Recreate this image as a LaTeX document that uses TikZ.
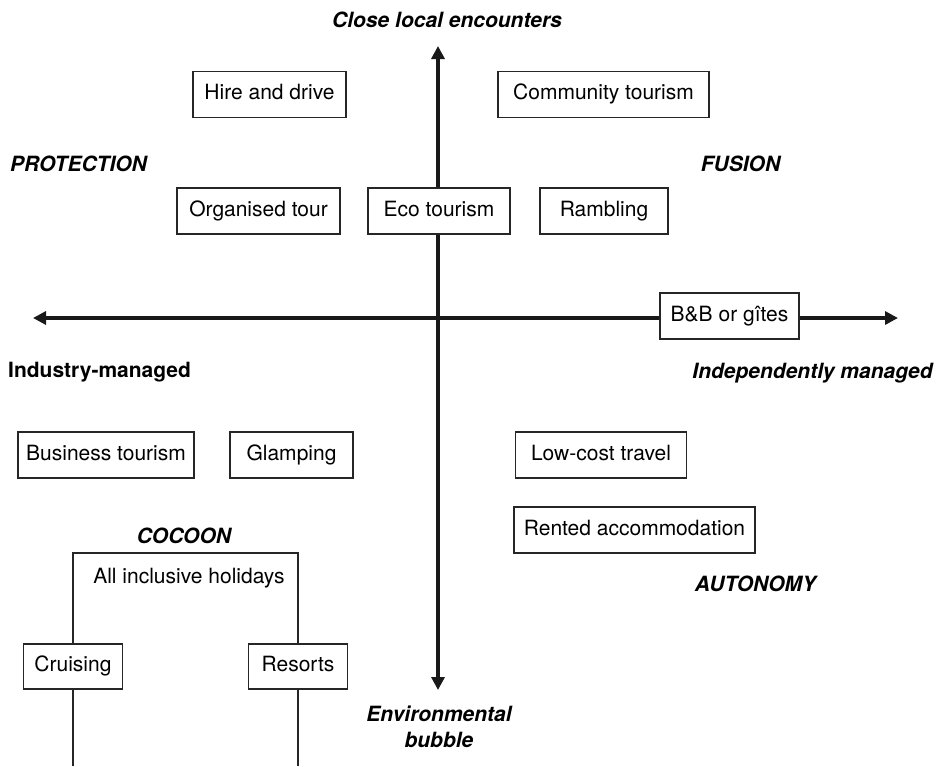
\documentclass[tikz,border=0pt]{standalone}
\usepackage{fontspec}
\setmainfont{TeX Gyre Heros}
\usetikzlibrary{arrows.meta}

\begin{document}
\begin{tikzpicture}[x=1pt,y=-1pt,
  every node/.style={font=\fontsize{21}{26}\selectfont},
  axis/.style={line width=3.2pt,draw=black!90,
    {Triangle[length=13pt,width=13pt]}-{Triangle[length=13pt,width=13pt]}},
  itembox/.style={draw=black!85,line width=1.1pt,fill=white,inner sep=0pt,
    minimum height=46pt,text height=15pt,text depth=4.4pt},
  quadrant/.style={inner sep=0pt,font=\fontsize{21}{26}\selectfont\bfseries\itshape},
  plainlabel/.style={inner sep=0pt,font=\fontsize{21}{26}\selectfont\bfseries},
  link/.style={draw=black!85,line width=1.1pt}]

  \useasboundingbox (0,0) rectangle (945,766);

  % axis end points
  \coordinate (vtop) at (438,46);
  \coordinate (vbot) at (438,690);
  \coordinate (hleft) at (33,318);
  \coordinate (hright) at (898,318);

  % the two axes
  \draw[axis] (vbot) -- (vtop);
  \draw[axis] (hleft) -- (hright);

  % axis and quadrant labels
  \node[quadrant] (top) at (447,20) {Close local encounters};
  \node[quadrant,align=center] (bottom) at (439,727) {Environmental\\bubble};
  \node[plainlabel,anchor=west] (left) at (8,372) {Industry-managed};
  \node[quadrant] (right) at (812.5,373) {Independently managed};
  \node[quadrant] (protection) at (78.5,164) {PROTECTION};
  \node[quadrant] (fusion) at (740.5,164) {FUSION};
  \node[quadrant] (cocoon) at (184,536) {COCOON};
  \node[quadrant] (autonomy) at (755.5,584) {AUTONOMY};

  % forms of tourism
  \node[itembox,minimum width=153pt] (hire) at (269.5,94.5) {Hire and drive};
  \node[itembox,minimum width=211pt] (community) at (603.5,94.5) {Community tourism};
  \node[itembox,minimum width=163pt] (organised) at (258.5,211) {Organised tour};
  \node[itembox,minimum width=142pt] (eco) at (439,211) {Eco tourism};
  \node[itembox,minimum width=128pt] (rambling) at (604,211) {Rambling};
  \node[itembox,minimum width=139pt] (bnb) at (729.5,316) {B\&B or gîtes};
  \node[itembox,minimum width=176pt] (business) at (106,455) {Business tourism};
  \node[itembox,minimum width=123pt] (glamping) at (291.5,455) {Glamping};
  \node[itembox,minimum width=171pt] (lowcost) at (601,455) {Low-cost travel};
  \node[itembox,minimum width=241pt] (rented) at (634.5,530) {Rented accommodation};
  \node[itembox,minimum width=99pt,minimum height=45pt] (cruising) at (73,666.5) {Cruising};
  \node[itembox,minimum width=99pt,minimum height=45pt] (resorts) at (298,666.5) {Resorts};

  % all-inclusive frame, open at the bottom
  \node[inner sep=0pt] (allinc) at (189,578) {All inclusive holidays};
  \coordinate (frametop) at (0,553);
  \coordinate (pagefoot) at (0,766);
  \draw[link] (cruising.north) -- (cruising.north |- frametop)
    -| (resorts.north);
  \draw[link] (cruising.south) -- (cruising.south |- pagefoot);
  \draw[link] (resorts.south) -- (resorts.south |- pagefoot);
\end{tikzpicture}
\end{document}
